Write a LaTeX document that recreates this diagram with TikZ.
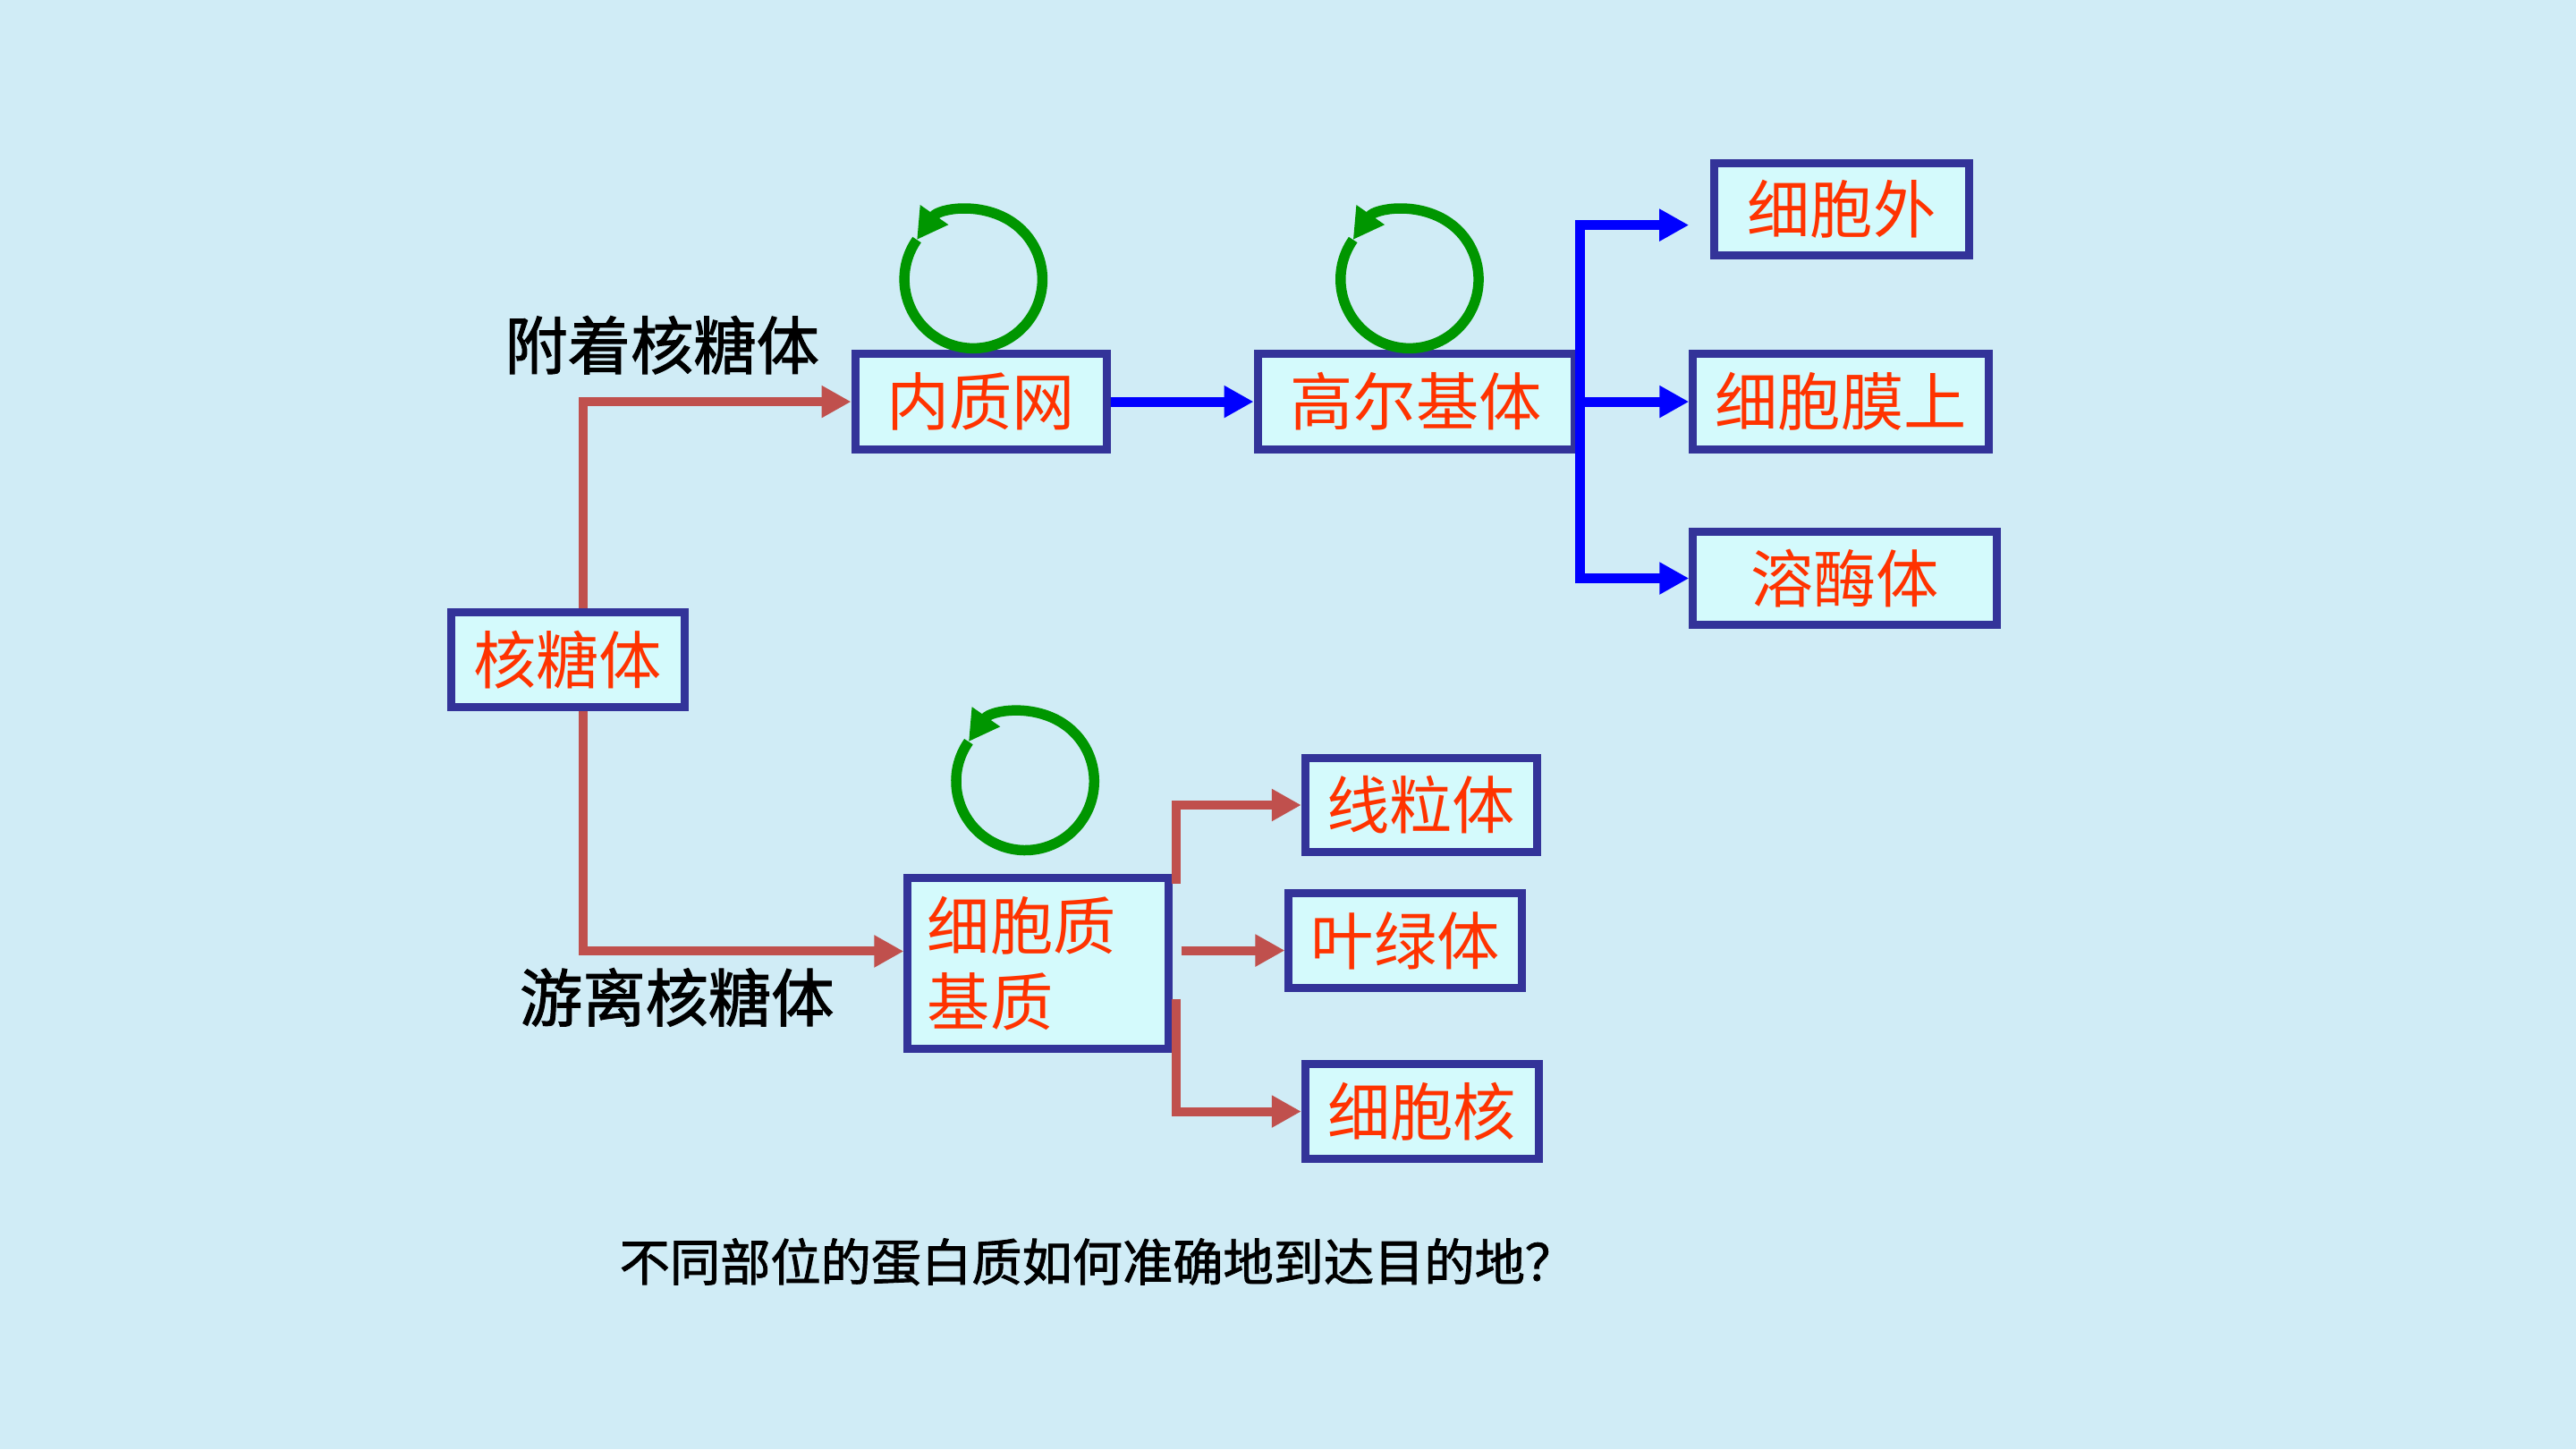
\documentclass[tikz,border=0pt]{standalone}
\usepackage{fontspec}
\newfontfamily\cjk{Noto Sans CJK SC}
\newfontfamily\cjkb[FakeBold=1.5]{Noto Sans CJK SC}
\usetikzlibrary{arrows.meta,calc}
\definecolor{bgc}{RGB}{208,236,246}
\definecolor{boxfill}{RGB}{212,250,252}
\definecolor{boxline}{RGB}{51,51,153}
\definecolor{txtred}{RGB}{255,51,0}
\definecolor{arrred}{RGB}{192,80,77}
\definecolor{arrblue}{RGB}{0,0,255}
\definecolor{ringgreen}{RGB}{0,150,0}
\newcommand{\uu}{0.183673mm}
\begin{document}
\begin{tikzpicture}[x=0.183673mm,y=0.183673mm,
 box/.style={draw=boxline, fill=boxfill, line width=0.9mm, inner sep=0pt, text=txtred, font=\cjk\fontsize{20}{24}\selectfont},
 lbl/.style={inner sep=0pt, text=black, font=\cjkb\fontsize{20}{24}\selectfont},
 redarrow/.style={draw=arrred, line width=1mm, -{Triangle[length=3.3mm,width=3.4mm]}},
 bluearrow/.style={draw=arrblue, line width=1.1mm, -{Triangle[length=3.3mm,width=3.4mm]}},
 ring/.style={draw=ringgreen, line width=1.15mm, -{Triangle[length=3.4mm,width=3.6mm]}},
]
\fill[bgc] (0,0) rectangle (1568,882);

\node[box, minimum width=153*\uu, minimum height=58*\uu] (er) at (597,637.5) {内质网};
\node[box, minimum width=193*\uu, minimum height=58*\uu] (golgi) at (862,637.5) {高尔基体};
\node[box, minimum width=155*\uu, minimum height=56*\uu] (ext) at (1121,754.5) {细胞外};
\node[box, minimum width=180*\uu, minimum height=58*\uu] (mem) at (1120.5,637.5) {细胞膜上};
\node[box, minimum width=185*\uu, minimum height=57*\uu] (lys) at (1123,530) {溶酶体};
\node[box, minimum width=142*\uu, minimum height=58*\uu] (ribo) at (345.5,480.5) {核糖体};
\node[box, minimum width=159*\uu, minimum height=104*\uu, text width=135*\uu, align=left] (cyto) at (632,295.5) {细胞质\\基质};
\node[box, minimum width=141*\uu, minimum height=57*\uu] (mito) at (865,392) {线粒体};
\node[box, minimum width=142*\uu, minimum height=58*\uu] (chl) at (855.5,309.5) {叶绿体};
\node[box, minimum width=142*\uu, minimum height=58*\uu] (nuc) at (865.5,205.5) {细胞核};

\node[lbl] (lab1) at (403,672) {附着核糖体};
\node[lbl] (lab2) at (412,275) {游离核糖体};
\node[lbl, font=\cjkb\fontsize{16}{20}\selectfont] (q) at (668,114) {不同部位的蛋白质如何准确地到达目的地？};

% red connectors from ribosome
\draw[redarrow] ($(ribo.north)+(9.5,0)$) |- (er.west);
\draw[redarrow] ($(ribo.south)+(9.5,0)$) |- ($(cyto.west)+(0,7.5)$);

% blue connectors
\draw[bluearrow] (er.east) -- (golgi.west);
\coordinate (gtop) at (962,745);
\coordinate (gbot) at (962,530);
\coordinate (extin) at (1028,745);
\draw[bluearrow] (gbot) |- (extin);
\draw[bluearrow] (gtop) |- (lys.west);
\draw[bluearrow] (golgi.east -| gtop) -- (mem.west);

% red connectors from cytoplasm
\coordinate (c1) at (716,344);
\coordinate (c2) at (716,274);
\coordinate (c3) at (719,303.5);
\draw[redarrow] (c1) |- (mito.west);
\draw[redarrow] (c2) |- (nuc.west);
\draw[redarrow] (c3) -- (chl.west |- c3);

% green cycle rings
\coordinate (ring1) at (592.5,712);
\coordinate (ring2) at (858,712);
\coordinate (ring3) at (624,406.5);
\draw[ring] ($(ring1)+(-215:42)$) arc[start angle=-215, end angle=145, radius=42];
\draw[ring] ($(ring2)+(-215:42)$) arc[start angle=-215, end angle=145, radius=42];
\draw[ring] ($(ring3)+(-215:42)$) arc[start angle=-215, end angle=145, radius=42];
\end{tikzpicture}
\end{document}
